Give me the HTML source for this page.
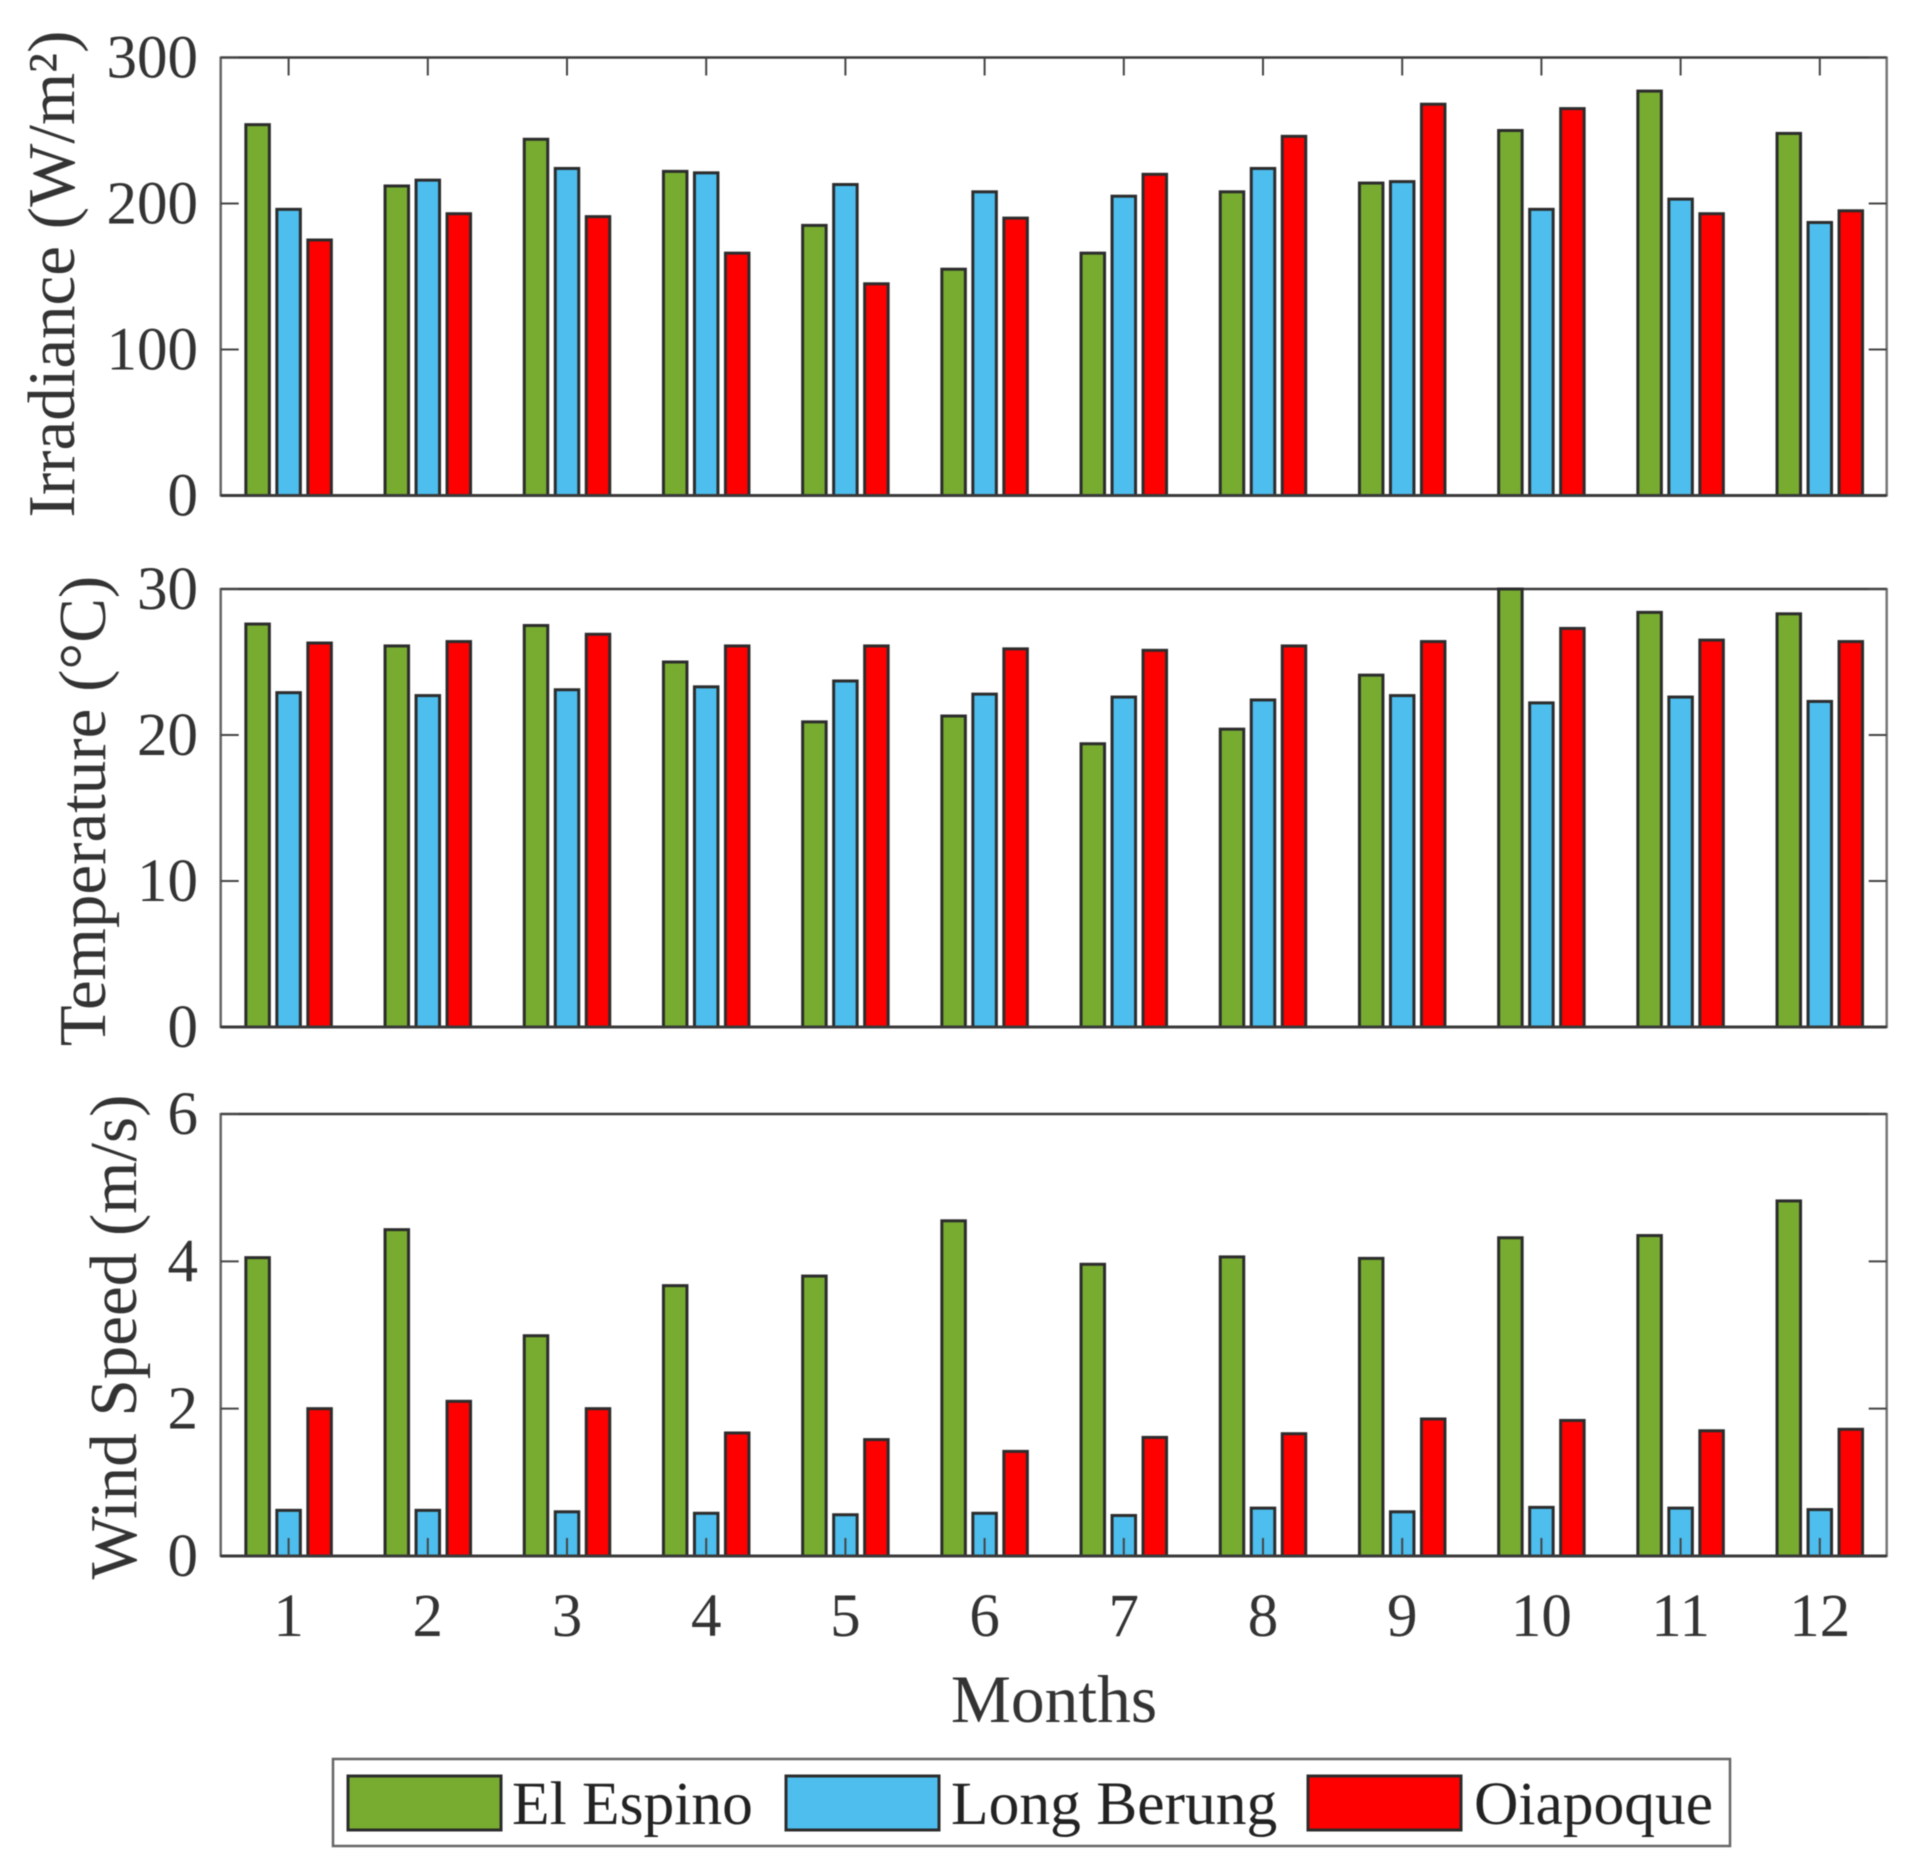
<!DOCTYPE html>
<html lang="en">
<head>
<meta charset="utf-8">
<title>Monthly irradiance, temperature and wind speed</title>
<style>
html,body{margin:0;padding:0;background:#fff;width:1919px;height:1869px;overflow:hidden}
svg{display:block;filter:blur(0.6px)}
text{font-family:"Liberation Serif","Times New Roman",serif;fill:#333}
</style>
</head>
<body>
<svg id="chart" xmlns="http://www.w3.org/2000/svg" width="1919" height="1869" viewBox="0 0 1919 1869">
  <rect x="0" y="0" width="1919" height="1869" fill="#fff"/>
  <text x="74" y="274" font-size="67" text-anchor="middle" transform="rotate(-90 74 274)">Irradiance (W/m²)</text>
  <text x="105" y="811" font-size="67" text-anchor="middle" transform="rotate(-90 105 811)">Temperature (°C)</text>
  <text x="136" y="1337" font-size="67" text-anchor="middle" transform="rotate(-90 136 1337)">Wind Speed (m/s)</text>
  <text x="1054" y="1722" font-size="67.5" text-anchor="middle">Months</text>
  <g id="panels"></g>
  <g id="legend">
    <rect x="333" y="1759" width="1397" height="87" fill="#fff" stroke="#666" stroke-width="2.5"/>
    <g>
      <rect x="348" y="1776" width="153" height="54" fill="#77ac30" stroke="#2c2c2c" stroke-width="3"/>
      <text x="512" y="1824" font-size="61.5" style="fill:#222">El Espino</text>
    </g>
    <g>
      <rect x="786" y="1776" width="153" height="54" fill="#4dbeee" stroke="#2c2c2c" stroke-width="3"/>
      <text x="951" y="1824" font-size="61.5" style="fill:#222">Long Berung</text>
    </g>
    <g>
      <rect x="1308" y="1776" width="153" height="54" fill="#ff0000" stroke="#2c2c2c" stroke-width="3"/>
      <text x="1474" y="1824" font-size="61.5" style="fill:#222">Oiapoque</text>
    </g>
  </g>
</svg>
<script>
const months = [1, 2, 3, 4, 5, 6, 7, 8, 9, 10, 11, 12];

const irradianceElEspino = [254, 212, 244, 222, 185, 155, 166, 208, 214, 250, 277, 248];
const irradianceLongBerung = [196, 216, 224, 221, 213, 208, 205, 224, 215, 196, 203, 187];
const irradianceOiapoque = [175, 193, 191, 166, 145, 190, 220, 246, 268, 265, 193, 195];
const irradianceTicks = [0, 100, 200, 300];

const temperatureElEspino = [27.6, 26.1, 27.5, 25.0, 20.9, 21.3, 19.4, 20.4, 24.1, 30.0, 28.4, 28.3];
const temperatureLongBerung = [22.9, 22.7, 23.1, 23.3, 23.7, 22.8, 22.6, 22.4, 22.7, 22.2, 22.6, 22.3];
const temperatureOiapoque = [26.3, 26.4, 26.9, 26.1, 26.1, 25.9, 25.8, 26.1, 26.4, 27.3, 26.5, 26.4];
const temperatureTicks = [0, 10, 20, 30];

const windElEspino = [4.05, 4.43, 2.99, 3.67, 3.80, 4.55, 3.96, 4.06, 4.04, 4.32, 4.35, 4.82];
const windLongBerung = [0.62, 0.62, 0.60, 0.58, 0.56, 0.58, 0.55, 0.65, 0.60, 0.66, 0.65, 0.63];
const windOiapoque = [2.00, 2.10, 2.00, 1.67, 1.58, 1.42, 1.61, 1.66, 1.86, 1.84, 1.70, 1.72];
const windTicks = [0, 2, 4, 6];

const seriesNames = ['el-espino', 'long-berung', 'oiapoque'];
const seriesColors = ['#77ac30', '#4dbeee', '#ff0000'];

const SVG_NS = 'http://www.w3.org/2000/svg';
const plotLeft = 220.7, plotRight = 1886.7;
const monthOrigin = 288.6, monthStep = 139.2;
const barPitch = 31, barWidth = 23.5;
const tickLength = 18;
const panelsRoot = document.getElementById('panels');

function xScale(month) {
  return monthOrigin + (month - 1) * monthStep;
}
function yScale(value, panel) {
  const max = panel.ticks[panel.ticks.length - 1];
  return panel.bottom - (Math.min(value, max) / max) * (panel.bottom - panel.top);
}
function make(tag, attrs, parent) {
  const node = document.createElementNS(SVG_NS, tag);
  for (const key in attrs) node.setAttribute(key, attrs[key]);
  parent.appendChild(node);
  return node;
}
function drawLine(x1, y1, x2, y2, color, width, name, parent) {
  const line = make('line', { x1: x1, y1: y1, x2: x2, y2: y2, stroke: color, 'stroke-width': width }, parent);
  
  
  return line;
}

const panelList = [
  { id: 'irradiance', top: 57.5, bottom: 495.5, ticks: irradianceTicks,
    series: [irradianceElEspino, irradianceLongBerung, irradianceOiapoque], topTicks: true, bottomTicks: false },
  { id: 'temperature', top: 589, bottom: 1027, ticks: temperatureTicks,
    series: [temperatureElEspino, temperatureLongBerung, temperatureOiapoque], topTicks: false, bottomTicks: false },
  { id: 'wind-speed', top: 1114, bottom: 1556, ticks: windTicks,
    series: [windElEspino, windLongBerung, windOiapoque], topTicks: false, bottomTicks: true }
];

panelList.forEach(function (panel) {
  const group = make('g', {}, panelsRoot);
  
  

  // frame
  drawLine(plotLeft, panel.top, plotRight, panel.top, '#3a3a3a', 2.5, panel.id + '-top-border', group);
  drawLine(plotLeft, panel.top - 1, plotLeft, panel.bottom + 1, '#666', 2.5, panel.id + '-left-border', group);
  drawLine(plotRight, panel.top - 1, plotRight, panel.bottom + 1, '#777', 2.5, panel.id + '-right-border', group);

  // y ticks and labels
  panel.ticks.forEach(function (tick) {
    const y = yScale(tick, panel);
    drawLine(plotLeft, y, plotLeft + tickLength, y, '#444', 2, panel.id + '-y-tick-left', group);
    drawLine(plotRight - tickLength, y, plotRight, y, '#444', 2, panel.id + '-y-tick-right', group);
    const label = make('text', { x: 198, y: y + 20, 'font-size': 61, 'text-anchor': 'end' }, group);
    label.textContent = String(tick);
    
    
  });

  // top ticks (under bars)
  if (panel.topTicks) {
    months.forEach(function (month) {
      drawLine(xScale(month), panel.top, xScale(month), panel.top + tickLength, '#444', 2, panel.id + '-top-tick', group);
    });
  }

  // bars
  panel.series.forEach(function (values, seriesIndex) {
    values.forEach(function (value, monthIndex) {
      const cx = xScale(months[monthIndex]) + (seriesIndex - 1) * barPitch;
      const y = yScale(value, panel);
      const bar = make('rect', {
        x: cx - barWidth / 2, y: y, width: barWidth, height: panel.bottom - y,
        fill: seriesColors[seriesIndex], stroke: '#2c2c2c', 'stroke-width': 3
      }, group);
      
      
    });
  });

  // baseline on top of bars
  drawLine(plotLeft, panel.bottom, plotRight, panel.bottom, '#3a3a3a', 3, panel.id + '-bottom-border', group);

  // bottom ticks and month labels
  if (panel.bottomTicks) {
    months.forEach(function (month) {
      drawLine(xScale(month), panel.bottom, xScale(month), panel.bottom - tickLength, '#444', 2, panel.id + '-bottom-tick', group);
      const label = make('text', { x: xScale(month), y: panel.bottom + 80, 'font-size': 61, 'text-anchor': 'middle' }, group);
      label.textContent = String(month);
      
      
    });
  }
});
</script>
</body>
</html>
